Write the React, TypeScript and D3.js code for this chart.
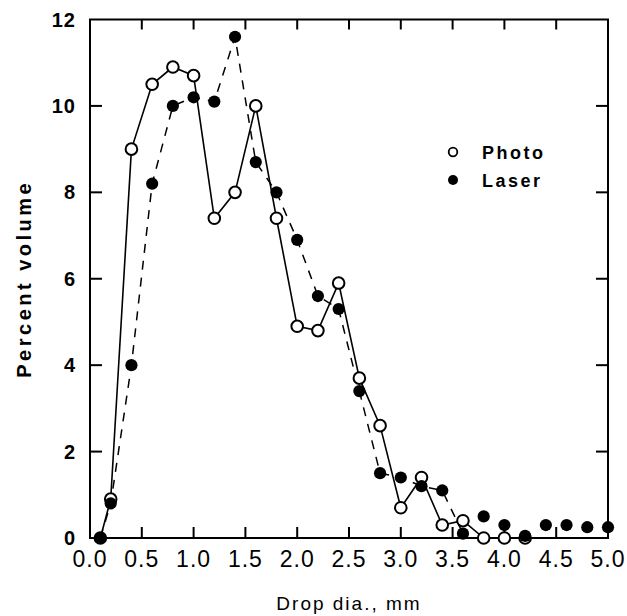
import React from "react";
import * as d3 from "d3";

const photoX = [0.1, 0.2, 0.4, 0.6, 0.8, 1.0, 1.2, 1.4, 1.6, 1.8, 2.0, 2.2, 2.4, 2.6, 2.8, 3.0, 3.2, 3.4, 3.6, 3.8, 4.0, 4.2];
const photoY = [0, 0.9, 9.0, 10.5, 10.9, 10.7, 7.4, 8.0, 10.0, 7.4, 4.9, 4.8, 5.9, 3.7, 2.6, 0.7, 1.4, 0.3, 0.4, 0.0, 0.0, 0.0];
const laserX = [0.1, 0.2, 0.4, 0.6, 0.8, 1.0, 1.2, 1.4, 1.6, 1.8, 2.0, 2.2, 2.4, 2.6, 2.8, 3.0, 3.2, 3.4, 3.6, 3.8, 4.0, 4.2, 4.4, 4.6, 4.8, 5.0];
const laserY = [0, 0.8, 4.0, 8.2, 10.0, 10.2, 10.1, 11.6, 8.7, 8.0, 6.9, 5.6, 5.3, 3.4, 1.5, 1.4, 1.2, 1.1, 0.1, 0.5, 0.3, 0.05, 0.3, 0.3, 0.25, 0.25];
const laserLineEnd = 3.6;
const xTicks = [0, 0.5, 1.0, 1.5, 2.0, 2.5, 3.0, 3.5, 4.0, 4.5, 5.0];
const yTicks = [0, 2, 4, 6, 8, 10, 12];
const seriesNames = ["Photo", "Laser"];
const xTitle = "Drop dia., mm";
const yTitle = "Percent volume";

export default function App() {
  const W = 627, H = 616;
  const left = 90, right = 608, top = 19.5, bottom = 538;
  const x = d3.scaleLinear().domain([0, 5]).range([left, right]);
  const y = d3.scaleLinear().domain([0, 12]).range([bottom, top]);
  const photo = photoX.map((v, i) => [v, photoY[i]] as [number, number]);
  const laser = laserX.map((v, i) => [v, laserY[i]] as [number, number]);
  const line = d3.line<[number, number]>().x(d => x(d[0])).y(d => y(d[1]));
  const laserLine = laser.filter(d => d[0] <= laserLineEnd);
  const font = "'Liberation Sans', Arial, sans-serif";
  const r = 5.8;
  return (
    <svg width={W} height={H} style={{ position: "absolute", left: 0, top: 0, background: "#fff" }}>
      <rect x={0} y={0} width={W} height={H} fill="#fff" />
      <rect x={left} y={top} width={right - left} height={bottom - top} fill="none" stroke="#000" strokeWidth={2} />
      {xTicks.slice(1, -1).map(t => (
        <g key={"xt" + t}>
          <line x1={x(t)} x2={x(t)} y1={bottom} y2={bottom - 11} stroke="#000" strokeWidth={2} />
          <line x1={x(t)} x2={x(t)} y1={top} y2={top + 10} stroke="#000" strokeWidth={2} />
        </g>
      ))}
      {xTicks.map(t => (
        <text key={"xl" + t} x={x(t)} y={567} textAnchor="middle" fontFamily={font} fontSize={23} letterSpacing={1}>
          {t.toFixed(1)}
        </text>
      ))}
      {yTicks.slice(1, -1).map(t => (
        <g key={"yt" + t}>
          <line x1={left} x2={left + 12} y1={y(t)} y2={y(t)} stroke="#000" strokeWidth={2} />
          <line x1={right} x2={right - 12} y1={y(t)} y2={y(t)} stroke="#000" strokeWidth={2} />
        </g>
      ))}
      {yTicks.map(t => (
        <text key={"yl" + t} x={76} y={y(t) + 7} textAnchor="end" fontFamily={font} fontSize={20} fontWeight="bold" letterSpacing={1}>
          {t}
        </text>
      ))}
      <text x={349} y={610} textAnchor="middle" fontFamily={font} fontSize={19} letterSpacing={2}>{xTitle}</text>
      <text transform={`translate(31,${(top + bottom) / 2}) rotate(-90)`} textAnchor="middle" fontFamily={font} fontSize={20} fontWeight="bold" letterSpacing={3.5}>{yTitle}</text>
      <path d={line(laserLine) || ""} fill="none" stroke="#000" strokeWidth={1.5} strokeDasharray="9,8" />
      <path d={line(photo) || ""} fill="none" stroke="#000" strokeWidth={1.6} />
      {photo.map((d, i) => (
        <circle key={"p" + i} cx={x(d[0])} cy={y(d[1])} r={r} fill="#fff" stroke="#000" strokeWidth={2} />
      ))}
      {laser.map((d, i) => (
        <circle key={"l" + i} cx={x(d[0])} cy={y(d[1])} r={r + 0.3} fill="#000" />
      ))}
      <circle cx={453} cy={152} r={4.3} fill="#fff" stroke="#000" strokeWidth={1.8} />
      <circle cx={453} cy={180} r={5} fill="#000" />
      <text x={482} y={159} fontFamily={font} fontSize={18} fontWeight="bold" letterSpacing={2.5}>{seriesNames[0]}</text>
      <text x={482} y={187} fontFamily={font} fontSize={18} fontWeight="bold" letterSpacing={2.5}>{seriesNames[1]}</text>
    </svg>
  );
}
